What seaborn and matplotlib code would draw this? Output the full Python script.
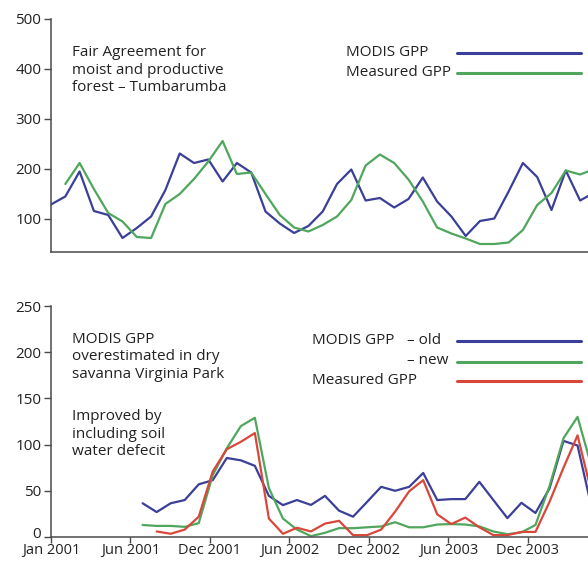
import numpy as np
import pandas as pd
import matplotlib
matplotlib.use("Agg")
import matplotlib.pyplot as plt
import matplotlib.transforms as mtransforms
import seaborn as sns

# ---------------- data ----------------
# Top panel (Tumbarumba), one value per composite period
top_modis = [129, 145, 195, 116, 108, 62, 82, 105, 158, 231, 212, 219, 175, 212, 193,
             115, 91, 72, 86, 115, 170, 199, 137, 142, 123, 140, 183, 135, 105, 66,
             96, 101, 155, 212, 184, 118, 197, 137, 153]
top_measured = [np.nan, 170, 212, 160, 112, 95, 64, 62, 130, 150, 180, 215, 256, 190, 193,
                150, 108, 83, 75, 88, 105, 138, 207, 229, 212, 179, 135, 83, 71, 61,
                50, 50, 53, 78, 128, 152, 197, 189, 200]

# Bottom panel (Virginia Park)
bot_modis_old = [36.5, 27, 36.5, 40, 57, 61.5, 85.5, 83, 77, 44.5, 34.5, 40, 34.7, 44.5,
                 28.5, 22, 38, 54.3, 50, 54.3, 69.3, 40, 41, 41, 59.7, 40, 20.4, 37, 26,
                 52.5, 104, 99, 32]
bot_modis_new = [13, 12, 12, 11, 15, 67, 96, 120, 129, 53, 20, 8, 1, 4.5, 9.6, 9.5, 10.5,
                 11.4, 16, 10.5, 10.5, 13.5, 14, 13.5, 11.5, 6, 3, 5, 13, 55, 107, 130, 76]
bot_measured = [np.nan, 6, 3.5, 8, 22, 71, 95, 103, 112.5, 20, 3.5, 10, 6, 14.5, 17.5, 2,
                2, 8, 27.5, 49.5, 61.5, 24.5, 14, 21, 10.5, 2, 2, 5.5, 5.5, 38, 75, 110, 48]

x_tick_labels = ["Jan 2001", "Jun 2001", "Dec 2001", "Jun 2002", "Dec 2002", "Jun 2003", "Dec 2003"]
top_yticks = [100, 200, 300, 400, 500]
bot_yticks = [0, 50, 100, 150, 200, 250]

# ---------------- style ----------------
sns.set_style("ticks")
plt.rcParams["font.family"] = ["Open Sans", "DejaVu Sans"]
plt.rcParams["font.size"] = 11

BLUE = "#3b3f98"
GREEN = "#4fa65c"
RED = "#d9473b"
TXT = "#222222"
SPINE = "#4a4a4a"
FS = 11

W, H = 588, 563
fig = plt.figure(figsize=(W / 100, H / 100), dpi=100)


def fx(px):
    return px / W


def fy(py):
    return 1 - py / H


ax1 = fig.add_axes([fx(51), fy(252), (588 - 51) / W, (252 - 19) / H])
ax2 = fig.add_axes([fx(51), fy(537), (588 - 51) / W, (537 - 306) / H])

top_df = pd.DataFrame({"idx": np.arange(len(top_modis)),
                       "modis": top_modis, "measured": top_measured})
bot_df = pd.DataFrame({"idx": np.arange(len(bot_modis_old)),
                       "old": bot_modis_old, "new": bot_modis_new, "measured": bot_measured})

lw = 1.6
sns.lineplot(data=top_df, x="idx", y="modis", ax=ax1, color=BLUE, lw=lw, estimator=None)
sns.lineplot(data=top_df, x="idx", y="measured", ax=ax1, color=GREEN, lw=lw, estimator=None)

sns.lineplot(data=bot_df, x="idx", y="old", ax=ax2, color=BLUE, lw=lw, estimator=None)
sns.lineplot(data=bot_df, x="idx", y="new", ax=ax2, color=GREEN, lw=lw, estimator=None)
sns.lineplot(data=bot_df, x="idx", y="measured", ax=ax2, color=RED, lw=lw, estimator=None)

# axes scaling
ax1.set_xlim(0, 537 / 14.3)
ax1.set_ylim(34, 500)
ax2_x0 = -6.53
ax2.set_xlim(ax2_x0, ax2_x0 + 537 / 14.03)
ax2.set_ylim(0, 250)

for ax in (ax1, ax2):
    sns.despine(ax=ax)
    for s in ("left", "bottom"):
        ax.spines[s].set_color(SPINE)
        ax.spines[s].set_linewidth(1.1)
    ax.set_xlabel("")
    ax.set_ylabel("")
    ax.tick_params(axis="y", length=5, width=1, color=SPINE, labelcolor=TXT,
                   labelsize=FS, pad=2)

ax1.set_yticks(top_yticks)
ax1.set_xticks([])
ax2.set_yticks(bot_yticks)
ax2.set_xticks(ax2_x0 + 5.665 * np.arange(len(x_tick_labels)))
ax2.set_xticklabels(x_tick_labels)
ax2.tick_params(axis="x", length=4, width=1, color=SPINE, labelcolor=TXT,
                labelsize=10.5, pad=0)

# lift the "0" label slightly so it clears the first date label
zero_label = ax2.get_yticklabels()[0]
zero_label.set_transform(zero_label.get_transform() +
                         mtransforms.ScaledTranslation(0, 5 / 100, fig.dpi_scale_trans))

# ---------------- annotations ----------------
fig.text(fx(72), fy(70), "Fair Agreement for\nmoist and productive\nforest – Tumbarumba",
         ha="left", va="center", fontsize=FS, color=TXT, linespacing=1.22)
fig.text(fx(72), fy(357), "MODIS GPP\noverestimated in dry\nsavanna Virginia Park",
         ha="left", va="center", fontsize=FS, color=TXT, linespacing=1.22)
fig.text(fx(72), fy(434), "Improved by\nincluding soil\nwater defecit",
         ha="left", va="center", fontsize=FS, color=TXT, linespacing=1.22)


# legends (custom layout)
def legend_line(ypx, color):
    fig.add_artist(plt.Line2D([fx(457), fx(581)], [fy(ypx), fy(ypx)], color=color, lw=2.2))


fig.text(fx(346), fy(53), "MODIS GPP", ha="left", va="center", fontsize=FS, color=TXT)
fig.text(fx(346), fy(73), "Measured GPP", ha="left", va="center", fontsize=FS, color=TXT)
legend_line(53, BLUE)
legend_line(73, GREEN)

fig.text(fx(312), fy(341), "MODIS GPP", ha="left", va="center", fontsize=FS, color=TXT)
fig.text(fx(407), fy(341), "– old", ha="left", va="center", fontsize=FS, color=TXT)
fig.text(fx(407), fy(361), "– new", ha="left", va="center", fontsize=FS, color=TXT)
fig.text(fx(312), fy(380), "Measured GPP", ha="left", va="center", fontsize=FS, color=TXT)
legend_line(341, BLUE)
legend_line(362, GREEN)
legend_line(381, RED)

fig.savefig("out.png", dpi=100)
